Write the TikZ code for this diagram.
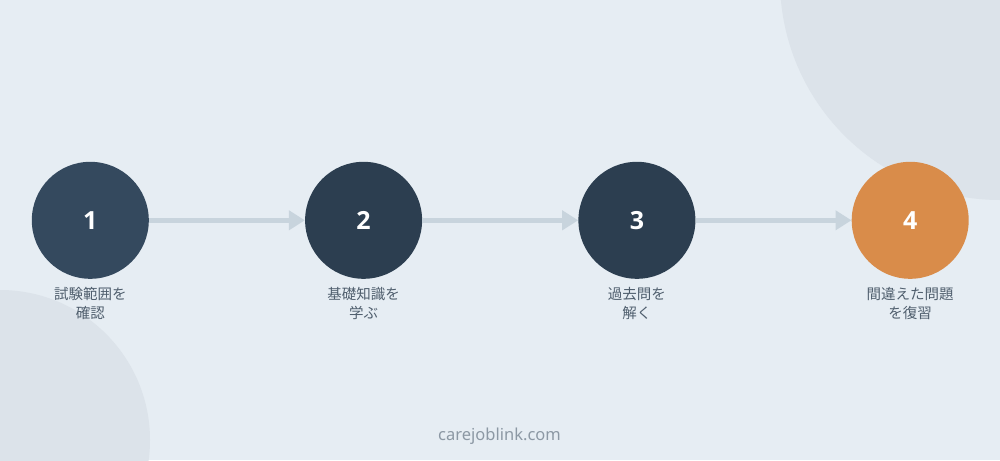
\documentclass[tikz,border=0pt]{standalone}
\usepackage{fontspec}
\setmainfont{Noto Sans}
\newfontfamily\jpfont{Noto Sans CJK JP}
\newfontfamily\numfont{Open Sans}
\usepackage{tikz}
\usetikzlibrary{shapes.geometric, arrows.meta}
\definecolor{bgblue}{HTML}{E6EDF3}
\definecolor{bgshade}{HTML}{DCE3EA}
\definecolor{stepslate}{HTML}{34495E}
\definecolor{stepdark}{HTML}{2C3E50}
\definecolor{steporange}{HTML}{D98C4A}
\definecolor{arrowgray}{HTML}{C8D4DD}
\definecolor{textgray}{HTML}{4F5E6D}
\definecolor{footgray}{HTML}{8C98A4}
\tikzstyle{stepnode} = [circle, minimum size=117pt, inner sep=0pt, fill=stepdark, text=white, font=\numfont\bfseries\fontsize{25}{25}\selectfont]
\tikzstyle{steptext} = [align=center, text centered, text=textgray, node distance=83pt, font=\jpfont\fontsize{14.5}{19.5}\selectfont]
\tikzstyle{footer} = [text=footgray, font=\fontsize{16.5}{16.5}\selectfont]
\tikzstyle{arrow} = [line width=5pt, draw=arrowgray, -{Triangle[length=16pt, width=19pt]}]

\begin{document}
\begin{tikzpicture}[x=1pt, y=-1pt, node distance=273.3pt]
\fill[bgblue] (0,0) rectangle (1000,460);
\useasboundingbox (0,0) rectangle (1000,460);
\begin{scope}
\clip (0,0) rectangle (1000,460);
\fill[bgshade] (1000,-20) circle (220pt);
\fill[bgshade] (0,440) circle (150pt);
\end{scope}

\node(step1)[stepnode, fill=stepslate] at (90.3,220.3) {1};
\node(step2)[stepnode, right of=step1] {2};
\node(step3)[stepnode, right of=step2] {3};
\node(step4)[stepnode, right of=step3, fill=steporange] {4};

\node(txt1)[steptext, below of=step1] {試験範囲を\\確認};
\node(txt2)[steptext, below of=step2] {基礎知識を\\学ぶ};
\node(txt3)[steptext, below of=step3] {過去問を\\解く};
\node(txt4)[steptext, below of=step4] {間違えた問題\\を復習};

\node(site)[footer] at (499.5,436) {carejoblink.com};

\draw[arrow] (step1) -- (step2);
\draw[arrow] (step2) -- (step3);
\draw[arrow] (step3) -- (step4);
\end{tikzpicture}
\end{document}
